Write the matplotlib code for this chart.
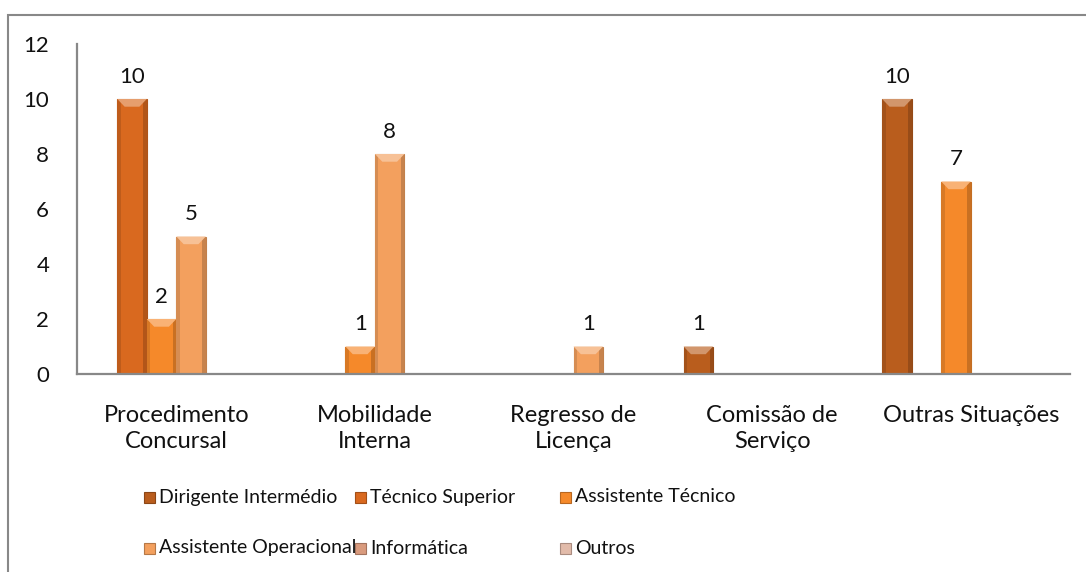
import matplotlib.pyplot as plt
from matplotlib.patches import Polygon, Rectangle
import numpy as np

plt.rcParams['font.family'] = ['Lato', 'DejaVu Sans']

categories = ['Procedimento\nConcursal', 'Mobilidade\nInterna', 'Regresso de\nLicença',
              'Comissão de\nServiço', 'Outras Situações']
series = ['Dirigente Intermédio', 'Técnico Superior', 'Assistente Técnico',
          'Assistente Operacional', 'Informática', 'Outros']
dirigente = [0, 0, 0, 1, 10]
tecnico_superior = [10, 0, 0, 0, 0]
assistente_tecnico = [2, 1, 0, 0, 7]
assistente_operacional = [5, 8, 1, 0, 0]
informatica = [0, 0, 0, 0, 0]
outros = [0, 0, 0, 0, 0]
values = [dirigente, tecnico_superior, assistente_tecnico,
          assistente_operacional, informatica, outros]

colors = ['#B95D1D', '#D9691F', '#F5892A', '#F3A05E', '#D99B7E', '#E2BBAA']

def lighten(c, f):
    rgb = np.array(plt.matplotlib.colors.to_rgb(c))
    return tuple(rgb + (1 - rgb) * f)

def darken(c, f):
    rgb = np.array(plt.matplotlib.colors.to_rgb(c))
    return tuple(rgb * (1 - f))

fig = plt.figure(figsize=(10.86, 5.72), dpi=100)
ax = fig.add_axes([77 / 1086, 1 - 374 / 572, 993 / 1086, 330 / 572])

x = np.arange(len(categories))
w = 0.1486
fs = 16

for i, (name, vals) in enumerate(zip(series, values)):
    pos = x + (i - 2.5) * w
    bars = ax.bar(pos, vals, w, color=colors[i], edgecolor=darken(colors[i], 0.2),
                  linewidth=0.8, zorder=2)
    for b, v in zip(bars, vals):
        if v == 0:
            continue
        bx, bw, bh = b.get_x(), b.get_width(), b.get_height()
        d = bw * 0.25
        # bevel: light top facet, slightly darker side strips
        ax.add_patch(Polygon([(bx, bh), (bx + bw, bh), (bx + bw - d, bh - 0.28), (bx + d, bh - 0.28)],
                             closed=True, facecolor=lighten(colors[i], 0.35), edgecolor='none', zorder=3))
        ax.add_patch(Rectangle((bx, 0), bw * 0.12, bh, facecolor=darken(colors[i], 0.12),
                               edgecolor='none', zorder=2.5))
        ax.add_patch(Rectangle((bx + bw * 0.88, 0), bw * 0.12, bh, facecolor=darken(colors[i], 0.18),
                               edgecolor='none', zorder=2.5))
        ax.text(bx + bw / 2, bh + 0.45, str(v), ha='center', va='bottom', fontsize=fs, color='#111111')

ax.set_xlim(-0.5, len(categories) - 0.5)
ax.set_ylim(0, 12)
ax.set_yticks(range(0, 13, 2))
ax.set_xticks(x)
ax.set_xticklabels(categories, fontsize=17, linespacing=1.3)
ax.tick_params(axis='both', length=0, colors='#111111')
ax.tick_params(axis='x', pad=22)
ax.tick_params(axis='y', pad=20, labelsize=fs)
for s in ['top', 'right']:
    ax.spines[s].set_visible(False)
for s in ['left', 'bottom']:
    ax.spines[s].set_color('#888888')
    ax.spines[s].set_linewidth(1.6)

# legend, drawn as fixed grid like the original
col_x = [144, 355, 560]
row_y = [497, 548]
for i, name in enumerate(series):
    cx = col_x[i % 3]
    cy = row_y[i // 3]
    fig.add_artist(Rectangle((cx / 1086, 1 - (cy + 6) / 572), 11 / 1086, 11 / 572,
                             transform=fig.transFigure, facecolor=colors[i],
                             edgecolor=darken(colors[i], 0.25), linewidth=0.8))
    fig.text((cx + 15) / 1086, 1 - cy / 572, name, fontsize=14, va='center', ha='left',
             color='#111111')

# chart area border
fig.add_artist(Rectangle((8 / 1086, -0.2), 1.2, 1 - 15 / 572 + 0.2, transform=fig.transFigure,
                         facecolor='none', edgecolor='#888888', linewidth=1.5))

fig.savefig('out.png', dpi=100)
